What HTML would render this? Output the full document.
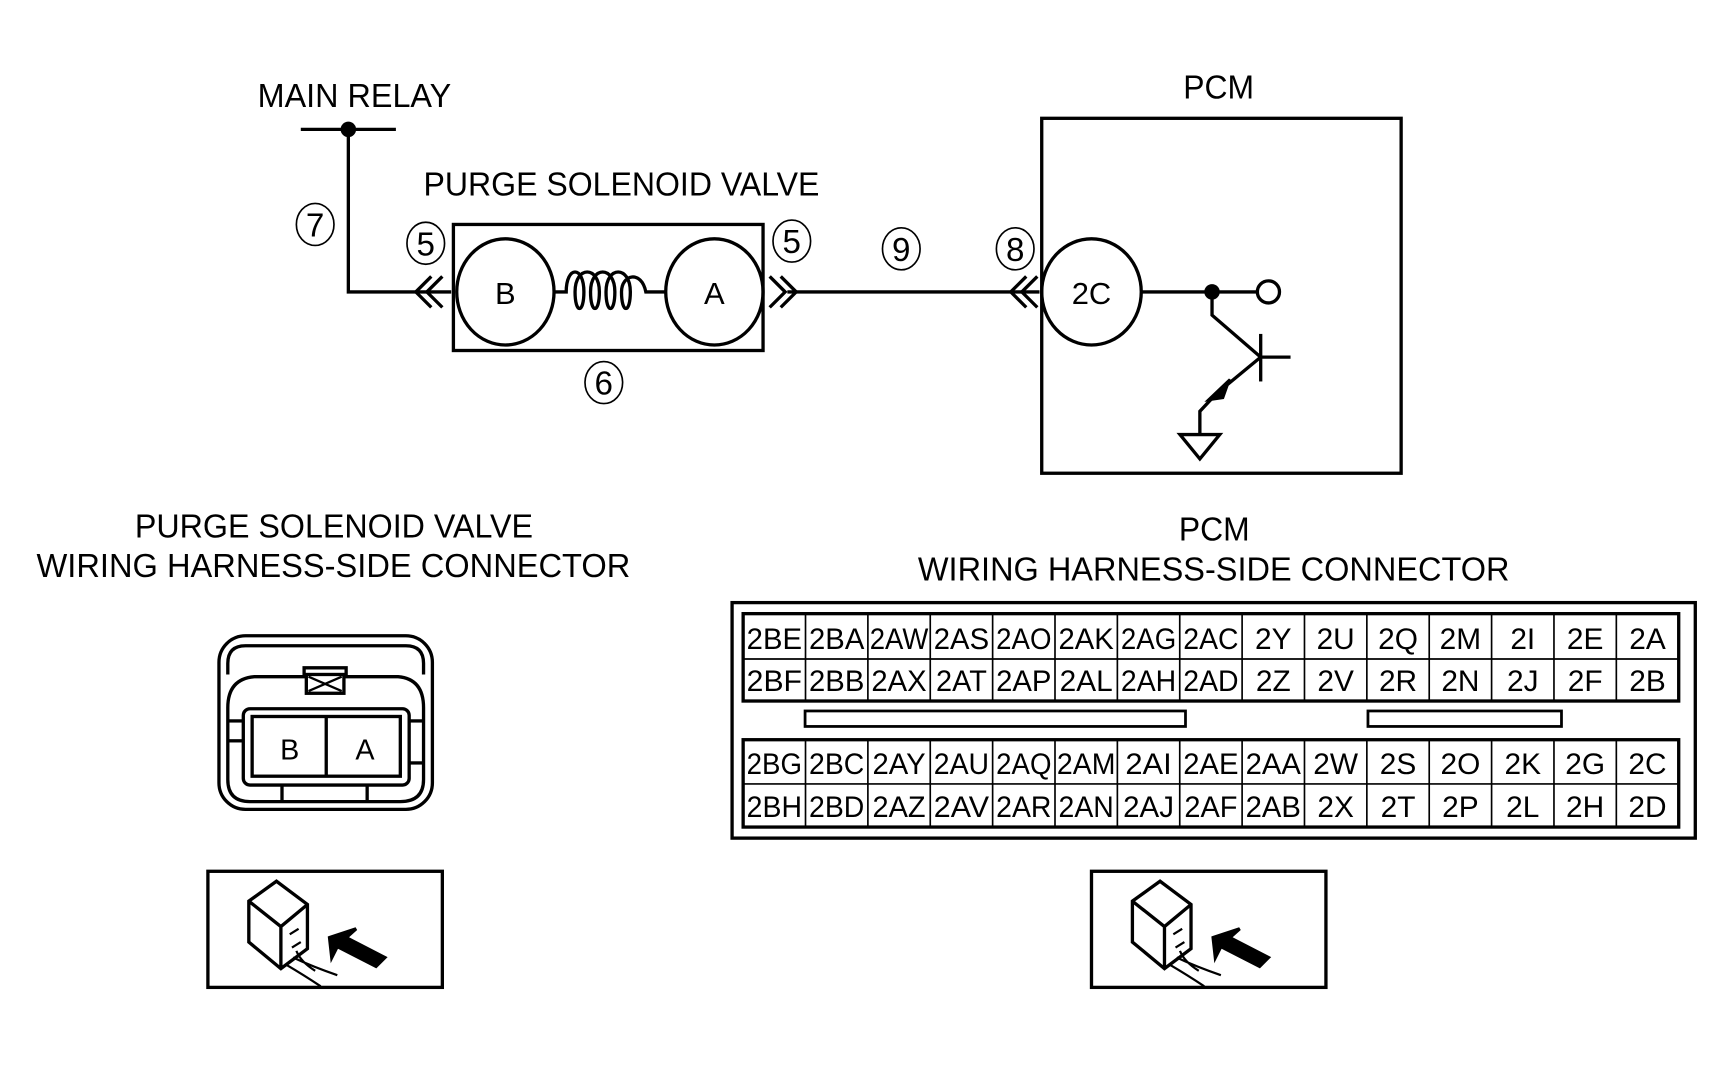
<!DOCTYPE html>
<html><head><meta charset="utf-8"><style>
html,body{margin:0;padding:0;background:#fff;}
svg{display:block;}
text{font-family:"Liberation Sans",Arial,sans-serif;fill:#000;}
</style></head><body>
<svg width="1734" height="1067" viewBox="0 0 1568 965" preserveAspectRatio="none" xmlns="http://www.w3.org/2000/svg">
<g fill="none" stroke="#000" stroke-width="3">
<line x1="272" y1="117" x2="358" y2="117"/>
<polyline points="315,117 315,264 408,264"/>
<rect x="410" y="203" width="280" height="114"/>
<ellipse cx="457" cy="264" rx="44" ry="48"/>
<ellipse cx="646" cy="264" rx="44" ry="48"/>
<path d="M501,264 H512 C512,240 528,240 528,264 C528,284 520,284 520,264 C520,240 542,240 542,264 C542,284 534,284 534,264 C534,240 556,240 556,264 C556,284 548,284 548,264 C548,240 570,240 570,264 C570,284 562,284 562,264 C562,248 580,244 584,264 H602"/>
<polyline points="390,250 376,264 390,278"/><polyline points="400,250 386,264 400,278"/>
<polyline points="696,250 710,264 696,278"/><polyline points="706,250 720,264 706,278"/>
<line x1="712" y1="264" x2="940" y2="264"/>
<polyline points="928,250 914,264 928,278"/><polyline points="938,250 924,264 938,278"/>
<rect x="942" y="107" width="325" height="321"/>
<ellipse cx="987" cy="264" rx="45" ry="48"/>
<line x1="1032" y1="264" x2="1137" y2="264"/>
<circle cx="1147" cy="264" r="10"/>
<polyline points="1096,264 1096,285 1140,323"/>
<line x1="1140" y1="302" x2="1140" y2="345"/>
<line x1="1140" y1="323" x2="1167" y2="323"/>
<polyline points="1140,323 1100,356 1085,372 1085,393"/>
<polygon points="1067,393 1103,393 1085,415"/>
</g>
<circle cx="315" cy="117" r="7" fill="#000"/>
<circle cx="1096" cy="264" r="7" fill="#000"/>
<polygon points="1112,343 1092,362 1106,360" fill="#000" stroke="#000" stroke-width="2"/>
<g fill="none" stroke="#000" stroke-width="1.5">
<ellipse cx="285" cy="203" rx="17" ry="19"/>
<ellipse cx="385" cy="220" rx="17" ry="19"/>
<ellipse cx="716" cy="218" rx="17" ry="19"/>
<ellipse cx="546" cy="346" rx="17" ry="19"/>
<ellipse cx="815" cy="225" rx="17" ry="19"/>
<ellipse cx="918" cy="225" rx="17" ry="19"/>
</g>
<g font-size="30" text-anchor="middle">
<text x="285" y="214">7</text><text x="385" y="231">5</text><text x="716" y="229">5</text>
<text x="546" y="357">6</text><text x="815" y="236">9</text><text x="918" y="236">8</text>
<text x="457" y="275" font-size="28">B</text><text x="646" y="275" font-size="28">A</text>
<text x="987" y="275" font-size="28">2C</text>
</g>
<g font-size="30">
<text x="233" y="97" textLength="175" lengthAdjust="spacingAndGlyphs">MAIN RELAY</text>
<text x="383" y="177" textLength="358" lengthAdjust="spacingAndGlyphs">PURGE SOLENOID VALVE</text>
<text x="1070" y="89" textLength="64" lengthAdjust="spacingAndGlyphs">PCM</text>
<text x="122" y="486" textLength="360" lengthAdjust="spacingAndGlyphs">PURGE SOLENOID VALVE</text>
<text x="33" y="522" textLength="537" lengthAdjust="spacingAndGlyphs">WIRING HARNESS-SIDE CONNECTOR</text>
<text x="1066" y="489" textLength="64" lengthAdjust="spacingAndGlyphs">PCM</text>
<text x="830" y="525" textLength="535" lengthAdjust="spacingAndGlyphs">WIRING HARNESS-SIDE CONNECTOR</text>
</g>
<g fill="none" stroke="#000" stroke-width="3">
<rect x="198" y="575" width="193" height="157" rx="24"/>
<path d="M206,610 V600 Q206,584 222,584 H367 Q383,584 383,600 V610"/>
<path d="M206,640 Q206,614 230,612 H275 V604 H313 V612 H360 Q383,614 383,640 V705 Q383,725 362,725 H226 Q206,725 206,705 Z"/>
<rect x="277" y="610" width="34" height="17"/>
<line x1="279" y1="612" x2="309" y2="625" stroke-width="2"/><line x1="279" y1="625" x2="309" y2="612" stroke-width="2"/>
<rect x="220" y="641" width="150" height="69" rx="6"/>
<rect x="228" y="648" width="134" height="54"/>
<line x1="295" y1="648" x2="295" y2="702"/>
<line x1="206" y1="652" x2="220" y2="652"/><line x1="206" y1="670" x2="220" y2="670"/>
<line x1="370" y1="652" x2="383" y2="652"/><line x1="370" y1="690" x2="383" y2="690"/>
<line x1="255" y1="710" x2="255" y2="725"/><line x1="332" y1="710" x2="332" y2="725"/>
</g>
<text x="262" y="687" font-size="26" text-anchor="middle">B</text>
<text x="330" y="687" font-size="26" text-anchor="middle">A</text>
<g id="icon" fill="none" stroke="#000" stroke-width="3">
<rect x="188" y="788" width="212" height="105"/>
<path d="M225,815 L250,797 L278,818 L278,858 L254,876 L225,852 Z M225,815 L254,838 L278,818 M254,838 V876"/>
<path d="M262,845 L270,840 M264,857 L272,852 M258,872 Q275,882 290,892 M265,866 Q282,874 305,882 M268,860 Q272,870 285,878" stroke-width="2"/>
<polygon points="298,848 322,840 313,848 348,866 340,874 305,856 300,866" fill="#000"/>
</g>
<use href="#icon" x="799" y="0"/>
<g fill="none" stroke="#000" stroke-width="3">
<rect x="662" y="545" width="871" height="213"/>
<rect x="672" y="555" width="846" height="79"/>
<rect x="672" y="669" width="846" height="79"/>
<line x1="672" y1="596" x2="1518" y2="596" stroke-width="1.5"/>
<line x1="672" y1="709" x2="1518" y2="709" stroke-width="1.5"/>
<rect x="728" y="643" width="344" height="14" stroke-width="2.5"/>
<rect x="1237" y="643" width="175" height="14" stroke-width="2.5"/>
<g stroke-width="1.5">
<path d="M728.4,555V634M784.8,555V634M841.2,555V634M897.6,555V634M954,555V634M1010.4,555V634M1066.8,555V634M1123.2,555V634M1179.6,555V634M1236,555V634M1292.4,555V634M1348.8,555V634M1405.2,555V634M1461.6,555V634"/>
<path d="M728.4,669V748M784.8,669V748M841.2,669V748M897.6,669V748M954,669V748M1010.4,669V748M1066.8,669V748M1123.2,669V748M1179.6,669V748M1236,669V748M1292.4,669V748M1348.8,669V748M1405.2,669V748M1461.6,669V748"/>
</g>
</g>
<g font-size="27" text-anchor="middle">
<text x="700.2" y="587" textLength="50" lengthAdjust="spacingAndGlyphs">2BE</text><text x="756.6" y="587" textLength="50" lengthAdjust="spacingAndGlyphs">2BA</text><text x="813" y="587" textLength="53" lengthAdjust="spacingAndGlyphs">2AW</text><text x="869.4" y="587" textLength="50" lengthAdjust="spacingAndGlyphs">2AS</text><text x="925.8" y="587" textLength="50" lengthAdjust="spacingAndGlyphs">2AO</text><text x="982.2" y="587" textLength="50" lengthAdjust="spacingAndGlyphs">2AK</text><text x="1038.6" y="587" textLength="50" lengthAdjust="spacingAndGlyphs">2AG</text><text x="1095" y="587" textLength="50" lengthAdjust="spacingAndGlyphs">2AC</text><text x="1151.4" y="587">2Y</text><text x="1207.8" y="587">2U</text><text x="1264.2" y="587">2Q</text><text x="1320.6" y="587">2M</text><text x="1377" y="587">2I</text><text x="1433.4" y="587">2E</text><text x="1489.8" y="587">2A</text>
<text x="700.2" y="625" textLength="50" lengthAdjust="spacingAndGlyphs">2BF</text><text x="756.6" y="625" textLength="50" lengthAdjust="spacingAndGlyphs">2BB</text><text x="813" y="625" textLength="50" lengthAdjust="spacingAndGlyphs">2AX</text><text x="869.4" y="625" textLength="46" lengthAdjust="spacingAndGlyphs">2AT</text><text x="925.8" y="625" textLength="50" lengthAdjust="spacingAndGlyphs">2AP</text><text x="982.2" y="625" textLength="48" lengthAdjust="spacingAndGlyphs">2AL</text><text x="1038.6" y="625" textLength="50" lengthAdjust="spacingAndGlyphs">2AH</text><text x="1095" y="625" textLength="50" lengthAdjust="spacingAndGlyphs">2AD</text><text x="1151.4" y="625">2Z</text><text x="1207.8" y="625">2V</text><text x="1264.2" y="625">2R</text><text x="1320.6" y="625">2N</text><text x="1377" y="625">2J</text><text x="1433.4" y="625">2F</text><text x="1489.8" y="625">2B</text>
<text x="700.2" y="700" textLength="50" lengthAdjust="spacingAndGlyphs">2BG</text><text x="756.6" y="700" textLength="50" lengthAdjust="spacingAndGlyphs">2BC</text><text x="813" y="700" textLength="48" lengthAdjust="spacingAndGlyphs">2AY</text><text x="869.4" y="700" textLength="50" lengthAdjust="spacingAndGlyphs">2AU</text><text x="925.8" y="700" textLength="50" lengthAdjust="spacingAndGlyphs">2AQ</text><text x="982.2" y="700" textLength="53" lengthAdjust="spacingAndGlyphs">2AM</text><text x="1038.6" y="700" textLength="42" lengthAdjust="spacingAndGlyphs">2AI</text><text x="1095" y="700" textLength="50" lengthAdjust="spacingAndGlyphs">2AE</text><text x="1151.4" y="700" textLength="50" lengthAdjust="spacingAndGlyphs">2AA</text><text x="1207.8" y="700">2W</text><text x="1264.2" y="700">2S</text><text x="1320.6" y="700">2O</text><text x="1377" y="700">2K</text><text x="1433.4" y="700">2G</text><text x="1489.8" y="700">2C</text>
<text x="700.2" y="739" textLength="50" lengthAdjust="spacingAndGlyphs">2BH</text><text x="756.6" y="739" textLength="50" lengthAdjust="spacingAndGlyphs">2BD</text><text x="813" y="739" textLength="48" lengthAdjust="spacingAndGlyphs">2AZ</text><text x="869.4" y="739" textLength="50" lengthAdjust="spacingAndGlyphs">2AV</text><text x="925.8" y="739" textLength="50" lengthAdjust="spacingAndGlyphs">2AR</text><text x="982.2" y="739" textLength="50" lengthAdjust="spacingAndGlyphs">2AN</text><text x="1038.6" y="739" textLength="46" lengthAdjust="spacingAndGlyphs">2AJ</text><text x="1095" y="739" textLength="48" lengthAdjust="spacingAndGlyphs">2AF</text><text x="1151.4" y="739" textLength="50" lengthAdjust="spacingAndGlyphs">2AB</text><text x="1207.8" y="739">2X</text><text x="1264.2" y="739">2T</text><text x="1320.6" y="739">2P</text><text x="1377" y="739">2L</text><text x="1433.4" y="739">2H</text><text x="1489.8" y="739">2D</text>
</g>
</svg>
</body></html>
